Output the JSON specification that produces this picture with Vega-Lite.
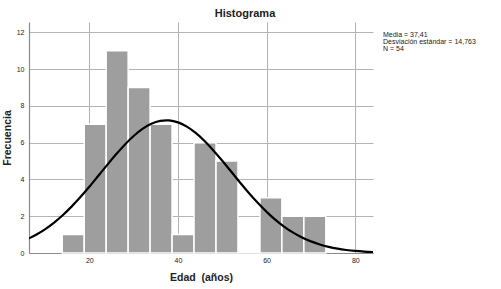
{
  "$schema": "https://vega.github.io/schema/vega-lite/v6.json",
  "autosize": "none",
  "width": 344,
  "height": 231,
  "padding": {"left": 29, "top": 22, "right": 128, "bottom": 36},
  "background": "white",
  "config": {
    "font": "Liberation Sans",
    "view": {"stroke": null},
    "axis": {
      "gridColor": "#b4b4b4",
      "gridWidth": 1,
      "domainColor": "#8a8a8a",
      "domainWidth": 1.2,
      "ticks": false,
      "labelFontSize": 7,
      "labelColor": "#222",
      "labelFont": "Liberation Sans",
      "labelOverlap": false,
      "titleFont": "Liberation Sans",
      "titleFontSize": 10.5,
      "titleFontWeight": "bold",
      "titleColor": "#222"
    }
  },
  "title": {
    "text": "Histograma",
    "fontSize": 11,
    "fontWeight": "bold",
    "font": "Liberation Sans",
    "color": "#222",
    "dx": 44,
    "offset": 3
  },
  "datasets": {
    "bins": [
      {"bin_start": 13.9, "bin_end": 18.86, "count": 1},
      {"bin_start": 18.86, "bin_end": 23.81, "count": 7},
      {"bin_start": 23.81, "bin_end": 28.77, "count": 11},
      {"bin_start": 28.77, "bin_end": 33.72, "count": 9},
      {"bin_start": 33.72, "bin_end": 38.68, "count": 7},
      {"bin_start": 38.68, "bin_end": 43.63, "count": 1},
      {"bin_start": 43.63, "bin_end": 48.59, "count": 6},
      {"bin_start": 48.59, "bin_end": 53.54, "count": 5},
      {"bin_start": 53.54, "bin_end": 58.5, "count": 0},
      {"bin_start": 58.5, "bin_end": 63.45, "count": 3},
      {"bin_start": 63.45, "bin_end": 68.41, "count": 2},
      {"bin_start": 68.41, "bin_end": 73.36, "count": 2}
    ],
    "curve": [
      {"edad": 6.4, "frecuencia": 0.795},
      {"edad": 8, "frecuencia": 0.993},
      {"edad": 10, "frecuencia": 1.288},
      {"edad": 12, "frecuencia": 1.642},
      {"edad": 14, "frecuencia": 2.054},
      {"edad": 16, "frecuencia": 2.523},
      {"edad": 18, "frecuencia": 3.042},
      {"edad": 20, "frecuencia": 3.602},
      {"edad": 22, "frecuencia": 4.188},
      {"edad": 24, "frecuencia": 4.78},
      {"edad": 26, "frecuencia": 5.356},
      {"edad": 28, "frecuencia": 5.893},
      {"edad": 30, "frecuencia": 6.365},
      {"edad": 32, "frecuencia": 6.751},
      {"edad": 34, "frecuencia": 7.03},
      {"edad": 36, "frecuencia": 7.187},
      {"edad": 37.41, "frecuencia": 7.22},
      {"edad": 38, "frecuencia": 7.214},
      {"edad": 40, "frecuencia": 7.11},
      {"edad": 42, "frecuencia": 6.879},
      {"edad": 44, "frecuencia": 6.535},
      {"edad": 46, "frecuencia": 6.096},
      {"edad": 48, "frecuencia": 5.582},
      {"edad": 50, "frecuencia": 5.019},
      {"edad": 52, "frecuencia": 4.431},
      {"edad": 54, "frecuencia": 3.84},
      {"edad": 56, "frecuencia": 3.268},
      {"edad": 58, "frecuencia": 2.73},
      {"edad": 60, "frecuencia": 2.239},
      {"edad": 62, "frecuencia": 1.803},
      {"edad": 64, "frecuencia": 1.426},
      {"edad": 66, "frecuencia": 1.107},
      {"edad": 68, "frecuencia": 0.844},
      {"edad": 70, "frecuencia": 0.632},
      {"edad": 72, "frecuencia": 0.464},
      {"edad": 74, "frecuencia": 0.335},
      {"edad": 76, "frecuencia": 0.237},
      {"edad": 78, "frecuencia": 0.165},
      {"edad": 80, "frecuencia": 0.112},
      {"edad": 82, "frecuencia": 0.075},
      {"edad": 84, "frecuencia": 0.05}
    ],
    "stats": [
      {"stat": "Media = 37,41"},
      {"stat": "Desviación estándar = 14,763"},
      {"stat": "N = 54"}
    ]
  },
  "layer": [
    {
      "data": {"name": "bins"},
      "mark": {"type": "bar", "color": "#9e9e9e", "stroke": "white", "strokeWidth": 1.5},
      "encoding": {
        "x": {
          "field": "bin_start",
          "type": "quantitative",
          "scale": {"domain": [6.4, 84], "nice": false, "zero": false},
          "axis": {
            "values": [20, 40, 60, 80],
            "title": "Edad\u00a0 (años)",
            "labelPadding": 3,
            "titlePadding": 9
          }
        },
        "x2": {"field": "bin_end"},
        "y": {
          "field": "count",
          "type": "quantitative",
          "scale": {"domain": [0, 12.57], "nice": false},
          "axis": {
            "values": [0, 2, 4, 6, 8, 10, 12],
            "title": "Frecuencia",
            "labelPadding": 5,
            "titlePadding": 4
          }
        },
        "y2": {"datum": 0}
      }
    },
    {
      "data": {"name": "curve"},
      "mark": {"type": "line", "color": "black", "strokeWidth": 2.2, "interpolate": "monotone", "clip": true},
      "encoding": {
        "x": {
          "field": "edad",
          "type": "quantitative",
          "axis": {
            "values": [20, 40, 60, 80],
            "title": "Edad\u00a0 (años)",
            "labelPadding": 3,
            "titlePadding": 9
          }
        },
        "y": {
          "field": "frecuencia",
          "type": "quantitative",
          "axis": {
            "values": [0, 2, 4, 6, 8, 10, 12],
            "title": "Frecuencia",
            "labelPadding": 5,
            "titlePadding": 4
          }
        }
      }
    },
    {
      "data": {"name": "stats"},
      "mark": {"type": "point", "opacity": 0},
      "encoding": {
        "color": {
          "field": "stat",
          "type": "nominal",
          "scale": {"domain": ["Media = 37,41", "Desviación estándar = 14,763", "N = 54"], "range": ["white", "white", "white"]},
          "legend": {
            "title": null,
            "orient": "none",
            "legendX": 347,
            "legendY": 9,
            "symbolSize": 0,
            "symbolOpacity": 0,
            "symbolStrokeWidth": 0,
            "labelOffset": 0,
            "labelFontSize": 7,
            "labelFont": "Liberation Sans",
            "labelColor": "#222",
            "rowPadding": -2,
            "labelLimit": 200
          }
        }
      }
    }
  ]
}
